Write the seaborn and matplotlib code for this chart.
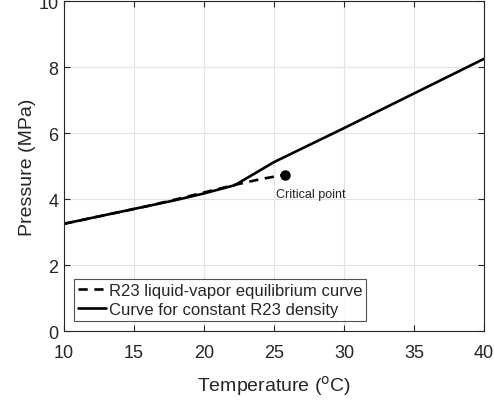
import numpy as np
import pandas as pd
import matplotlib
matplotlib.use('Agg')
import matplotlib.pyplot as plt
import seaborn as sns

# Data
density_temp = [10, 12, 14, 16, 18, 20, 22.2, 25, 30, 35, 40]
density_pres = [3.25, 3.43, 3.61, 3.79, 3.97, 4.17, 4.42, 5.12, 6.15, 7.2, 8.25]

vle_temp = [10, 12, 14, 16, 18, 20, 22.2, 24, 25.8]
vle_pres = [3.25, 3.43, 3.61, 3.79, 3.99, 4.2, 4.43, 4.6, 4.74]

crit_temp = [25.8]
crit_pres = [4.74]

sns.set_theme(style="whitegrid")
plt.rcParams['font.family'] = ['Liberation Sans', 'DejaVu Sans']

fig = plt.figure(figsize=(4.94, 4.02), dpi=100)
ax = fig.add_axes([0.1296, 0.174, 0.8504, 0.821])

vle = pd.DataFrame({'T': vle_temp, 'P': vle_pres})
dens = pd.DataFrame({'T': density_temp, 'P': density_pres})

sns.lineplot(data=vle, x='T', y='P', ax=ax, color='black', lw=1.9,
             linestyle=(0, (3.5, 2.5)), label='R23 liquid-vapor equilibrium curve')
sns.lineplot(data=dens, x='T', y='P', ax=ax, color='black', lw=1.9,
             label='Curve for constant R23 density')
ax.plot(crit_temp, crit_pres, 'o', color='black', ms=6.5)
ax.text(crit_temp[0] - 0.65, crit_pres[0] - 0.6, 'Critical point', fontsize=9, color='#222222',
        ha='left', va='center')

ax.set_xlim(10, 40)
ax.set_ylim(0, 10)
ax.set_xticks(range(10, 41, 5))
ax.set_yticks(range(0, 11, 2))
ax.grid(True, color='#e3e3e3', lw=0.8)
for s in ax.spines.values():
    s.set_color('#262626')
    s.set_linewidth(0.8)
ax.tick_params(direction='in', length=4, width=0.8, colors='#262626', labelsize=13,
               top=True, right=True, bottom=True, left=True, labeltop=False, labelright=False)
ax.tick_params(axis='x', pad=9)
ax.tick_params(axis='y', pad=4)
ax.set_xlabel('Temperature ($^{\\mathrm{o}}$C)', fontsize=14, color='#262626', labelpad=9)
ax.set_ylabel('Pressure (MPa)', fontsize=14, color='#262626', labelpad=2)

leg = ax.legend(loc='lower left', bbox_to_anchor=(0.023, 0.03), fontsize=12, frameon=True,
                fancybox=False, edgecolor='#262626', handlelength=1.7, handletextpad=0.15,
                borderpad=0.25, labelspacing=0.25, borderaxespad=0)
leg.get_frame().set_linewidth(0.8)

fig.savefig('out.png', dpi=100)
